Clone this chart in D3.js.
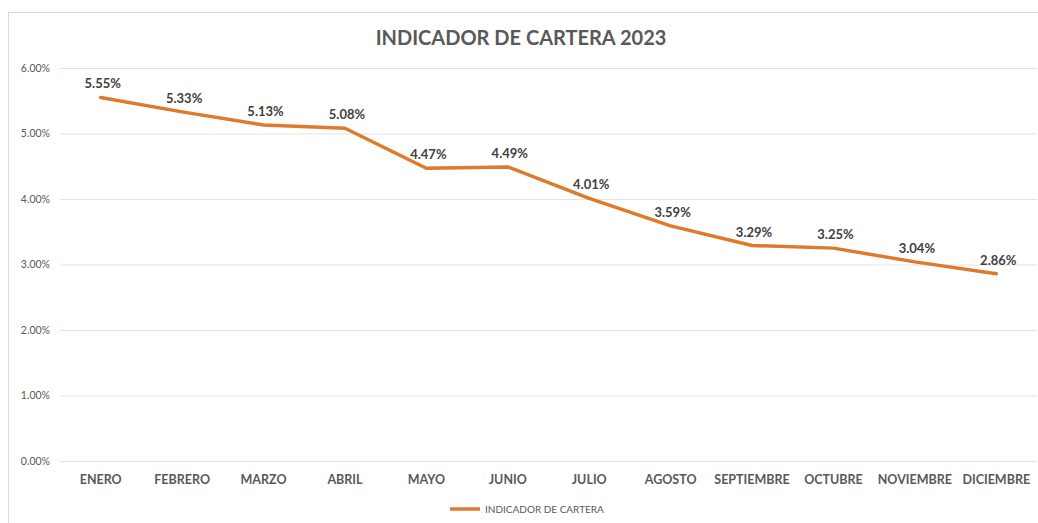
<!DOCTYPE html>
<html>
<head>
<meta charset="utf-8">
<script src="https://cdn.jsdelivr.net/npm/d3@7"></script>
<style>
  body { margin: 0; background: #fff; }
  svg text { font-family: Lato, "Open Sans", sans-serif; }
</style>
</head>
<body>
<div id="chart"></div>
<script>
// data
var months = ["ENERO", "FEBRERO", "MARZO", "ABRIL", "MAYO", "JUNIO", "JULIO",
              "AGOSTO", "SEPTIEMBRE", "OCTUBRE", "NOVIEMBRE", "DICIEMBRE"];
var values = [5.55, 5.33, 5.13, 5.08, 4.47, 4.49, 4.01, 3.59, 3.29, 3.25, 3.04, 2.86];
var yTicks = [0, 1, 2, 3, 4, 5, 6];
var title = "INDICADOR DE CARTERA 2023";
var seriesName = "INDICADOR DE CARTERA";

var W = 1038, H = 523;
var margin = {top: 68, right: 1, bottom: 62, left: 60},
    width = W - margin.left - margin.right,
    height = H - margin.top - margin.bottom;

var svg = d3.select("#chart").append("svg")
    .attr("width", W)
    .attr("height", H);

// chart frame (cut at right/bottom like the reference)
svg.append("rect")
    .attr("x", 8.5).attr("y", 12.5)
    .attr("width", W + 10).attr("height", H + 10)
    .attr("fill", "#fff")
    .attr("stroke", "#d9d9d9");

var g = svg.append("g")
    .attr("transform", "translate(" + margin.left + "," + margin.top + ")");

var x = d3.scaleBand()
    .domain(months)
    .range([0, width]);

var y = d3.scaleLinear()
    .domain([0, 6])
    .range([height, 0]);

// gridlines
g.append("g")
    .attr("class", "grid")
    .call(d3.axisLeft(y).tickValues(yTicks).tickSize(-width).tickFormat(""))
    .call(function(s) {
      s.select(".domain").remove();
      s.selectAll("line").attr("stroke", "#e3e3e3");
    });

// y axis labels
g.append("g")
    .call(d3.axisLeft(y).tickValues(yTicks).tickSize(0).tickPadding(10)
      .tickFormat(function(d) { return d.toFixed(2) + "%"; }))
    .call(function(s) {
      s.select(".domain").remove();
      s.selectAll("text")
        .attr("fill", "#595959")
        .style("font-size", "10.5px");
    });

// x axis labels
g.append("g")
    .attr("transform", "translate(0," + height + ")")
    .call(d3.axisBottom(x).tickSize(0).tickPadding(14))
    .call(function(s) {
      s.select(".domain").remove();
      s.selectAll("text")
        .attr("fill", "#595959")
        .style("font-size", "12.5px")
        .style("font-weight", "bold");
    });

var line = d3.line()
    .x(function(d, i) { return x(months[i]) + x.bandwidth() / 2; })
    .y(function(d) { return y(d); });

g.append("path")
    .datum(values)
    .attr("fill", "none")
    .attr("stroke", "#dd7a2c")
    .attr("stroke-width", 3.5)
    .attr("stroke-linejoin", "round")
    .attr("stroke-linecap", "round")
    .attr("d", line);

// data labels
g.selectAll(".lbl")
    .data(values)
  .enter().append("text")
    .attr("class", "lbl")
    .attr("x", function(d, i) { return x(months[i]) + x.bandwidth() / 2 + 2; })
    .attr("y", function(d) { return y(d) - 9; })
    .attr("text-anchor", "middle")
    .attr("fill", "#404040")
    .style("font-size", "13px")
    .style("font-weight", "bold")
    .text(function(d) { return d.toFixed(2) + "%"; });

// title
svg.append("text")
    .attr("x", 521)
    .attr("y", 45)
    .attr("text-anchor", "middle")
    .attr("fill", "#595959")
    .style("font-size", "20px")
    .style("font-weight", "bold")
    .text(title);

// legend
var legend = svg.append("g").attr("transform", "translate(450,509)");
legend.append("line")
    .attr("x1", 0).attr("x2", 30)
    .attr("stroke", "#dd7a2c")
    .attr("stroke-width", 3.5);
legend.append("text")
    .attr("x", 35)
    .attr("y", 3.5)
    .attr("fill", "#595959")
    .style("font-size", "10px")
    .text(seriesName);
</script>
</body>
</html>
